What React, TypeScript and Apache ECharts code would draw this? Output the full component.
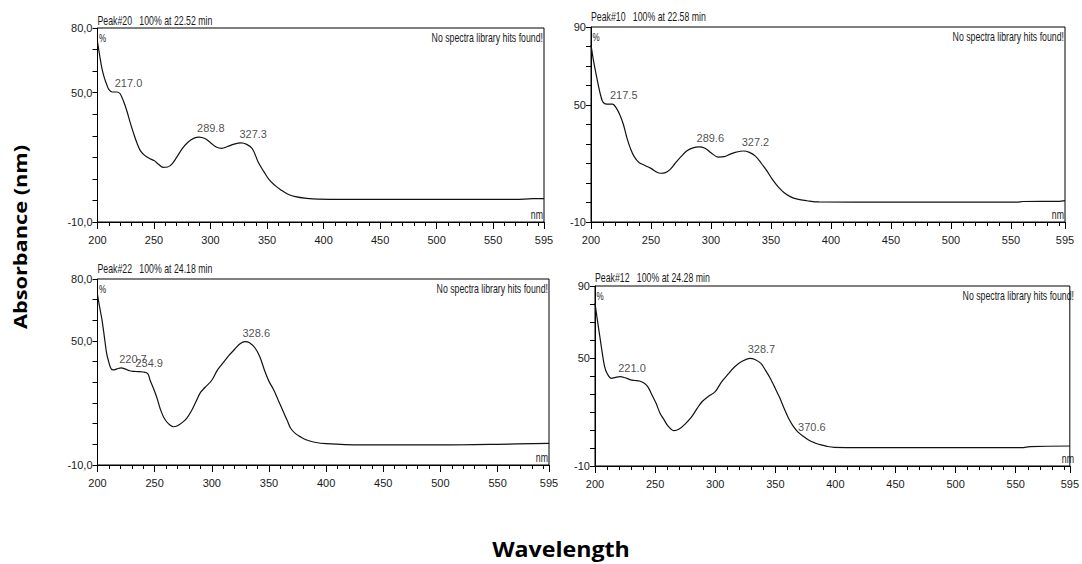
import React, { useEffect, useRef } from "react";
import * as echarts from "echarts";

// ---------- data ----------
const xMin = 200;
const xMax = 595;

const wl1 = [200, 202, 204, 206, 208, 210, 213, 217, 220, 223, 226, 229, 232, 235, 238, 242, 246, 250, 254, 258, 262, 266, 270, 275, 280, 285, 290, 295, 300, 305, 310, 315, 320, 327, 332, 337, 342, 347, 352, 357, 362, 368, 375, 385, 395, 420, 500, 570, 585, 595];
const abs1 = [73.5, 67, 61, 57, 54, 51.5, 50.3, 50.3, 49.5, 46, 41.5, 36, 31, 26.5, 23, 20.8, 19.5, 18.5, 16.8, 15.3, 15.5, 17, 20, 24, 27, 28.8, 29.4, 28.7, 26.8, 24.8, 24.2, 25, 26, 26.7, 26, 24, 18, 13.5, 9.5, 7, 5, 3, 1.8, 1, 0.6, 0.5, 0.5, 0.5, 0.8, 0.8];
const peakWl1 = [217.0, 289.8, 327.3];
const peakAbs1 = [50.3, 29.4, 26.7];

const wl2 = [200, 202, 204, 206, 208, 210, 213, 218, 221, 224, 227, 230, 233, 236, 240, 245, 250, 255, 258, 262, 266, 270, 275, 280, 285, 290, 295, 300, 306, 311, 316, 321, 327, 332, 337, 342, 346, 351, 356, 361, 366, 372, 380, 390, 450, 555, 560, 590, 595];
const abs2 = [80.8, 73, 66.5, 60.5, 55, 51.5, 50.5, 50.5, 48.5, 45, 40, 33, 27.5, 23.5, 20.5, 19, 17.5, 15.5, 15, 15.3, 17, 20, 23.5, 26.5, 28, 28.5, 27.8, 25.5, 23.3, 23.5, 24.8, 25.8, 26.4, 25.7, 23.8, 20, 16.7, 12, 8, 5, 3, 1.7, 0.9, 0.3, 0.2, 0.2, 0.5, 0.6, 1];
const peakWl2 = [217.5, 289.6, 327.2];
const peakAbs2 = [50.5, 28.5, 26.4];

const wl3 = [200, 202, 204, 206, 208, 210, 212, 214, 217, 220.7, 224, 228, 232, 235, 240, 244, 246, 249, 252, 255, 258, 262, 266.5, 270, 274, 278, 282, 286, 290, 294, 300, 305, 310, 315, 320, 325, 329, 333, 338, 342, 346, 350, 354, 358, 362, 366, 369, 373, 378, 383, 390, 400, 430, 500, 550, 595];
const abs3 = [72.3, 66, 60, 52, 44, 39.5, 36.5, 36, 36.5, 37, 36.5, 35.6, 35.3, 35.2, 35, 34.2, 31, 27, 22.5, 17, 13, 10, 8.5, 9, 10.5, 12.6, 16, 20.5, 25, 27.5, 31, 36, 39.5, 43, 46, 48.8, 49.7, 49.2, 46.5, 42.4, 36, 30.5, 26.5, 21.5, 16.5, 11.5, 7.8, 5.3, 3.5, 2.1, 1, 0.3, -0.3, -0.3, 0, 0.5];
const peakWl3 = [220.7, 234.9, 328.6];
const peakAbs3 = [37, 35.2, 49.7];

const wl4 = [200, 202, 204, 206, 208, 210, 213.7, 217, 221, 225, 229, 233, 237, 241, 244, 247, 250.8, 254, 257.6, 261, 265.8, 270, 275.5, 280, 285, 289, 294, 300, 305, 310, 316, 322, 328.7, 333, 338, 342, 346, 350, 353.6, 357, 361, 365, 368.7, 372.8, 378, 383, 388, 393, 399, 450, 555, 562, 595];
const abs4 = [80.4, 71, 62, 53, 45.2, 41.5, 38.7, 39.2, 39.6, 39, 38, 37.5, 37.2, 36, 34, 30, 24.8, 19.5, 15.5, 12, 9.6, 10.5, 13.7, 17, 22, 25.7, 28.5, 31.3, 36.5, 40.5, 45, 48, 49.8, 49.2, 47, 43, 38.5, 33, 28, 22.5, 16.5, 12, 9, 6.7, 4.3, 2.8, 1.7, 0.9, 0.4, 0.2, 0.2, 0.8, 1.1];
const peakWl4 = [221.0, 328.7, 370.6];
const peakAbs4 = [39.6, 49.8, 6.8];

const titles = [
  "Peak#20   100% at 22.52 min",
  "Peak#10   100% at 22.58 min",
  "Peak#22   100% at 24.18 min",
  "Peak#12   100% at 24.28 min",
];
const yMins = [-10, -10, -10, -10];
const yMaxs = [80, 90, 80, 90];
const yLabelValues = [
  [-10, 50, 80],
  [-10, 50, 90],
  [-10, 50, 80],
  [-10, 50, 90],
];
const yDecimal = [true, false, true, false];
const hitsText = "No spectra library hits found!";

// ---------- layout ----------
const grids = [
  { left: 97.5, top: 28, width: 446.5, height: 194 },
  { left: 591, top: 27, width: 474, height: 195 },
  { left: 97.5, top: 279, width: 451.5, height: 186 },
  { left: 595, top: 286, width: 480, height: 180 },
];
const titleY = [20, 16, 268, 277];

const FONT = '"Liberation Sans", Arial, sans-serif';
const TXT = "#1a1a1a";
const NARROW = 0.73;

export default function App() {
  const ref = useRef<HTMLDivElement>(null);
  useEffect(() => {
    if (!ref.current) return;
    const chart = echarts.init(ref.current, undefined, { renderer: "svg" });
    const wls = [wl1, wl2, wl3, wl4];
    const abss = [abs1, abs2, abs3, abs4];
    const pw = [peakWl1, peakWl2, peakWl3, peakWl4];
    const pa = [peakAbs1, peakAbs2, peakAbs3, peakAbs4];

    const xAxes: any[] = [];
    const yAxes: any[] = [];
    const series: any[] = [];
    const graphics: any[] = [];

    const narrowText = (x: number, y: number, text: string, align: string, size = 12) => ({
      type: "text",
      x,
      y,
      scaleX: NARROW,
      scaleY: 1,
      style: { text, fontFamily: FONT, fontSize: size, fill: TXT, align, verticalAlign: "middle" },
    });

    grids.forEach((g, i) => {
      xAxes.push({
        type: "value",
        gridIndex: i,
        min: xMin,
        max: xMax,
        interval: 50,
        position: "bottom",
        axisLine: { show: true, onZero: false, lineStyle: { color: "#000", width: 1 } },
        axisTick: { show: true, length: 7, lineStyle: { color: "#000" } },
        axisLabel: { show: true, fontFamily: FONT, fontSize: 11, color: TXT, margin: 12 },
        splitLine: { show: false },
      });
      xAxes.push({
        type: "value",
        gridIndex: i,
        min: xMin,
        max: xMax,
        interval: 10,
        position: "bottom",
        axisLine: { show: false, onZero: false },
        axisTick: { show: true, length: 4, lineStyle: { color: "#000" } },
        axisLabel: { show: false },
        splitLine: { show: false },
      });
      const labs = yLabelValues[i];
      const dec = yDecimal[i];
      yAxes.push({
        type: "value",
        gridIndex: i,
        min: yMins[i],
        max: yMaxs[i],
        interval: 10,
        axisLine: { show: true, onZero: false, lineStyle: { color: "#000", width: 1 } },
        axisTick: { show: true, length: 5, lineStyle: { color: "#000" } },
        axisLabel: {
          show: true,
          fontFamily: FONT,
          fontSize: 11,
          color: TXT,
          margin: 5,
          formatter: (v: number) => (labs.indexOf(v) >= 0 ? (dec ? v.toFixed(1).replace(".", ",") : String(v)) : ""),
        },
        splitLine: { show: false },
      });
      series.push({
        type: "line",
        xAxisIndex: i * 2,
        yAxisIndex: i,
        data: wls[i].map((w, k) => [w, abss[i][k]]),
        showSymbol: false,
        symbol: "none",
        smooth: 0.35,
        lineStyle: { color: "#111", width: 1.2 },
        silent: true,
      });
      series.push({
        type: "scatter",
        xAxisIndex: i * 2,
        yAxisIndex: i,
        data: pw[i].map((w, k) => [w, pa[i][k]]),
        symbolSize: 1,
        itemStyle: { color: "rgba(0,0,0,0)" },
        label: {
          show: true,
          position: "top",
          align: "left",
          distance: 3,
          offset: [-2, 0],
          fontFamily: FONT,
          fontSize: 11,
          color: TXT,
          formatter: (p: any) => p.value[0].toFixed(1),
        },
        silent: true,
      });
      const right = g.left + g.width;
      const bottom = g.top + g.height;
      graphics.push(
        narrowText(g.left, titleY[i], titles[i], "left"),
        narrowText(right - 1, g.top + 9, hitsText, "right"),
        narrowText(g.left + 1.5, g.top + 10, "%", "left", 11),
        narrowText(right - 1, bottom - 8, "nm", "right")
      );
    });

    graphics.push(
      {
        type: "text",
        x: 20,
        y: 237,
        rotation: Math.PI / 2,
        scaleX: 1.28,
        scaleY: 1,
        style: { text: "Absorbance (nm)", font: 'bold 17px "Open Sans", sans-serif', fill: "#000", align: "center", verticalAlign: "middle" },
      },
      {
        type: "text",
        x: 561,
        y: 548,
        scaleX: 1.16,
        scaleY: 1.05,
        style: { text: "Wavelength", font: 'bold 20px "Open Sans", sans-serif', fill: "#000", align: "center", verticalAlign: "middle" },
      }
    );

    chart.setOption({
      animation: false,
      backgroundColor: "#fff",
      grid: grids.map((g) => ({ ...g, show: true, borderColor: "#000", borderWidth: 1, backgroundColor: "transparent", containLabel: false })),
      xAxis: xAxes,
      yAxis: yAxes,
      series,
      graphic: { elements: graphics },
    });
    return () => chart.dispose();
  }, []);
  return <div ref={ref} style={{ position: "fixed", left: 0, top: 0, width: 1082, height: 564 }} />;
}
